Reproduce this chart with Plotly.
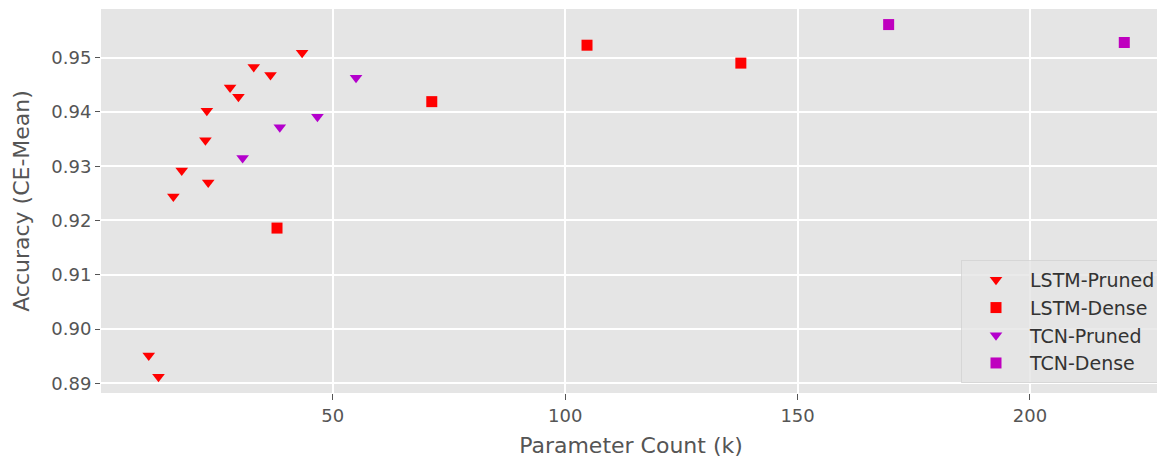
import plotly.graph_objects as go

# LSTM-Pruned
lstm_pruned_x = [10.4, 12.5, 15.7, 17.5, 22.9, 22.6, 23.2, 27.9, 29.7, 33.0, 36.6, 43.4]
lstm_pruned_y = [0.8951, 0.8912, 0.9244, 0.9292, 0.9402, 0.9348, 0.9270, 0.9445, 0.9428, 0.9483, 0.9468, 0.9509]

# LSTM-Dense
lstm_dense_x = [38.0, 71.3, 104.7, 137.8]
lstm_dense_y = [0.9186, 0.9419, 0.9523, 0.9490]

# TCN-Pruned
tcn_pruned_x = [30.6, 38.6, 46.7, 55.0]
tcn_pruned_y = [0.9315, 0.9372, 0.9391, 0.9463]

# TCN-Dense
tcn_dense_x = [169.6, 220.3]
tcn_dense_y = [0.9561, 0.9528]

x_ticks = [50, 100, 150, 200]
y_ticks = [0.89, 0.90, 0.91, 0.92, 0.93, 0.94, 0.95]
y_tick_labels = ["0.89", "0.90", "0.91", "0.92", "0.93", "0.94", "0.95"]

FONT = "DejaVu Sans"
GRAY = "#555555"

fig = go.Figure()
fig.add_trace(go.Scatter(x=lstm_pruned_x, y=lstm_pruned_y, mode="markers", name="LSTM-Pruned",
                         marker=dict(symbol="triangle-down", size=11, color="#ff0000", line=dict(width=0))))
fig.add_trace(go.Scatter(x=lstm_dense_x, y=lstm_dense_y, mode="markers", name="LSTM-Dense",
                         marker=dict(symbol="square", size=11, color="#ff0000", line=dict(width=0))))
fig.add_trace(go.Scatter(x=tcn_pruned_x, y=tcn_pruned_y, mode="markers", name="TCN-Pruned",
                         marker=dict(symbol="triangle-down", size=11, color="#b400cc", line=dict(width=0))))
fig.add_trace(go.Scatter(x=tcn_dense_x, y=tcn_dense_y, mode="markers", name="TCN-Dense",
                         marker=dict(symbol="square", size=11, color="#bf00bf", line=dict(width=0))))

# the page body has an 8px default margin, so the figure is sized/offset to compensate
fig.update_layout(
    width=1157, height=451,
    margin=dict(l=93, r=4, t=1, b=66, autoexpand=False),
    paper_bgcolor="white",
    plot_bgcolor="#e5e5e5",
    font=dict(family=FONT, color=GRAY),
    showlegend=True,
    legend=dict(
        x=1.0, y=0.026, xanchor="right", yanchor="bottom",
        bgcolor="rgba(229,229,229,0.8)",
        bordercolor="rgba(210,210,210,0.8)", borderwidth=1,
        font=dict(family=FONT, size=19, color="#333333"),
        itemwidth=58,
    ),
)

fig.update_xaxes(
    range=[0.13, 228.2],
    tickmode="array", tickvals=x_ticks, ticktext=[str(v) for v in x_ticks],
    showgrid=True, gridcolor="white", gridwidth=1.6,
    zeroline=False, showline=False, automargin=False,
    ticks="outside", ticklen=6, tickwidth=1, tickcolor=GRAY,
    tickfont=dict(family=FONT, size=18, color=GRAY),
    title=dict(text="Parameter Count (k)", font=dict(family=FONT, size=22, color=GRAY), standoff=13),
)
fig.update_yaxes(
    range=[0.88821, 0.95897],
    tickmode="array", tickvals=y_ticks, ticktext=y_tick_labels,
    showgrid=True, gridcolor="white", gridwidth=1.6,
    zeroline=False, showline=False, automargin=False,
    ticks="outside", ticklen=5, tickwidth=1, tickcolor=GRAY,
    tickfont=dict(family=FONT, size=18, color=GRAY),
    title=dict(text="Accuracy (CE-Mean)", font=dict(family=FONT, size=22, color=GRAY), standoff=15),
)

fig.write_html("out.html")
